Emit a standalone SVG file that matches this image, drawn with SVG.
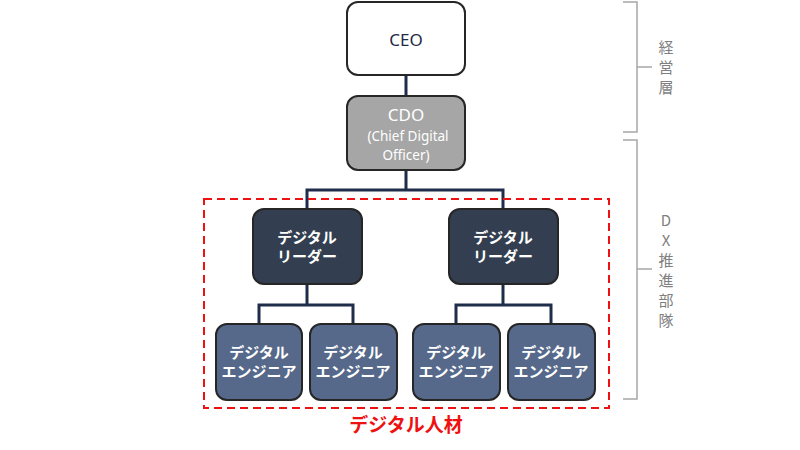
<svg xmlns="http://www.w3.org/2000/svg" width="800" height="450" viewBox="0 0 800 450">
<style>
.box{stroke:#262626;stroke-width:2}
.ceo{fill:#ffffff}
.cdo{fill:#a6a6a6}
.lead{fill:#333f50}
.eng{fill:#56698a}
.wt{fill:#ffffff;font-family:"Noto Sans","Noto Sans CJK JP",sans-serif;text-anchor:middle}
.jp{font-family:"Noto Sans CJK JP",sans-serif;font-weight:bold;font-size:15px;fill:#ffffff;text-anchor:middle}
.side{font-family:"Noto Sans CJK JP",sans-serif;font-size:15px;fill:#7f7f7f;text-anchor:middle}
.conn{stroke:#1f2d4a;stroke-width:3;fill:none}
.br{stroke:#a6a6a6;stroke-width:1.5;fill:none}
</style>
<rect width="800" height="450" fill="#ffffff"/>
<g id="connectors">
<path class="conn" d="M406 75V96"/>
<path class="conn" d="M406 170V190M307 209V190H503V209"/>
<path class="conn" d="M307 284V305M259 324V305H353V324"/>
<path class="conn" d="M503 284V305M456 324V305H551V324"/>
</g>
<g id="ceo">
<rect class="box ceo" x="347" y="2" width="118" height="73" rx="11"/>
<text x="406" y="46" font-family="Noto Sans, sans-serif" font-size="17" fill="#1f2a44" text-anchor="middle">CEO</text>
</g>
<g id="cdo">
<rect class="box cdo" x="347" y="96" width="118" height="74" rx="11"/>
<text class="wt" x="406" y="121" font-size="17">CDO</text>
<text class="wt" x="408" y="141" font-size="13.5">(Chief Digital</text>
<text class="wt" x="406" y="160" font-size="13.5">Officer)</text>
</g>
<g id="leader1">
<rect class="box lead" x="253" y="209" width="109" height="75" rx="11"/>
<text class="jp" x="307" y="243">デジタル</text>
<text class="jp" x="307" y="262">リーダー</text>
</g>
<g id="leader2">
<rect class="box lead" x="449" y="209" width="109" height="75" rx="11"/>
<text class="jp" x="503" y="243">デジタル</text>
<text class="jp" x="503" y="262">リーダー</text>
</g>
<g id="eng1">
<rect class="box eng" x="216" y="324" width="86" height="76" rx="11"/>
<text class="jp" x="259" y="358">デジタル</text>
<text class="jp" x="259" y="377">エンジニア</text>
</g>
<g id="eng2">
<rect class="box eng" x="310" y="324" width="87" height="76" rx="11"/>
<text class="jp" x="353" y="358">デジタル</text>
<text class="jp" x="353" y="377">エンジニア</text>
</g>
<g id="eng3">
<rect class="box eng" x="413" y="324" width="87" height="76" rx="11"/>
<text class="jp" x="456" y="358">デジタル</text>
<text class="jp" x="456" y="377">エンジニア</text>
</g>
<g id="eng4">
<rect class="box eng" x="508" y="324" width="87" height="76" rx="11"/>
<text class="jp" x="551" y="358">デジタル</text>
<text class="jp" x="551" y="377">エンジニア</text>
</g>
<g id="digital-talent">
<rect x="204" y="199" width="405" height="209" fill="none" stroke="#ee1111" stroke-width="2" stroke-dasharray="8,5"/>
<text x="406" y="432" font-family="Noto Sans CJK JP, sans-serif" font-weight="bold" font-size="19" fill="#ee1111" text-anchor="middle">デジタル人材</text>
</g>
<g id="management">
<path class="br" d="M623 2H637V132H623M637 67H652"/>
<text class="side" x="666" y="53">経</text>
<text class="side" x="666" y="73">営</text>
<text class="side" x="666" y="93">層</text>
</g>
<g id="dx-team">
<path class="br" d="M623 140H637V399H623M637 269H652"/>
<text class="side" x="666" y="226">D</text>
<text class="side" x="666" y="246">X</text>
<text class="side" x="666" y="266">推</text>
<text class="side" x="666" y="286">進</text>
<text class="side" x="666" y="306">部</text>
<text class="side" x="666" y="326">隊</text>
</g>
</svg>
